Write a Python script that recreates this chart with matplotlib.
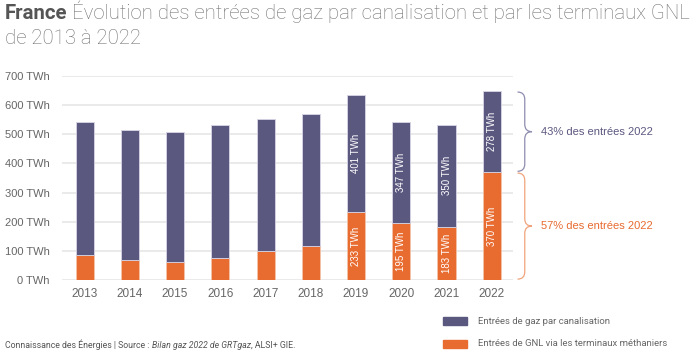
import matplotlib
matplotlib.use("Agg")
import matplotlib.pyplot as plt
from matplotlib.path import Path
from matplotlib.patches import PathPatch
import numpy as np

years = ["2013", "2014", "2015", "2016", "2017", "2018", "2019", "2020", "2021", "2022"]
gnl = [86, 67, 62, 77, 101, 118, 233, 195, 183, 370]
pipe = [457, 446, 447, 455, 452, 452, 401, 347, 350, 278]
labelled = [False, False, False, False, False, False, True, True, True, True]
yticks = [0, 100, 200, 300, 400, 500, 600, 700]

PURPLE = "#5b5880"
ORANGE = "#e86b30"
GRAY = "#666666"

W, H = 700, 350
fig = plt.figure(figsize=(7, 3.5), dpi=100)
ax = fig.add_axes([62 / W, 1 - 280 / H, (513 - 62) / W, (280 - 76) / H])

x = np.arange(len(years))
bw = 0.40
ax.bar(x, gnl, bw, color=ORANGE, edgecolor="#f3c2a8", linewidth=0.6, zorder=3)
ax.bar(x, pipe, bw, bottom=gnl, color=PURPLE, edgecolor="#d8d6e6", linewidth=0.6, zorder=3)

for i in range(len(years)):
    if labelled[i]:
        ax.text(x[i], gnl[i] / 2, f"{gnl[i]} TWh", rotation=90, ha="center", va="center",
                color="white", fontsize=7, family="Liberation Sans", zorder=4)
        ax.text(x[i], gnl[i] + pipe[i] / 2, f"{pipe[i]} TWh", rotation=90, ha="center", va="center",
                color="white", fontsize=7, family="Liberation Sans", zorder=4)

ax.set_xlim(-0.5, 9.47)
ax.set_ylim(0, 700)
ax.set_yticks(yticks)
ax.set_yticklabels([f"{v} TWh" for v in yticks])
ax.set_xticks(x)
ax.set_xticklabels(years)
ax.grid(axis="y", color="#e8e8e8", linewidth=1.3, zorder=0)
for s in ax.spines.values():
    s.set_visible(False)
ax.tick_params(axis="both", length=0, colors=GRAY, labelsize=8)
ax.tick_params(axis="y", pad=9)
ax.tick_params(axis="x", pad=6, labelsize=8.5)
for lab in ax.get_xticklabels() + ax.get_yticklabels():
    lab.set_family("Liberation Sans")


def brace(y0, y1, color):
    xv = 9.73
    d = 0.16
    h = 25
    ym = (y0 + y1) / 2
    verts = [(xv - d, y1), (xv, y1), (xv, y1 - h),
             (xv, ym + h), (xv, ym), (xv + d, ym),
             (xv, ym), (xv, ym - h),
             (xv, y0 + h), (xv, y0), (xv - d, y0)]
    codes = [Path.MOVETO, Path.CURVE3, Path.CURVE3,
             Path.LINETO, Path.CURVE3, Path.CURVE3,
             Path.CURVE3, Path.CURVE3,
             Path.LINETO, Path.CURVE3, Path.CURVE3]
    p = PathPatch(Path(verts, codes), fill=False, edgecolor=color, linewidth=0.9, clip_on=False)
    ax.add_patch(p)
    return ym

tot = gnl[-1] + pipe[-1]
ym1 = brace(gnl[-1] + 3, tot - 3, "#8f8db0")
ym2 = brace(3, gnl[-1] - 3, "#f0a47c")
ax.text(10.1, ym1, f"{round(pipe[-1] / tot * 100)}% des entrées 2022", color=PURPLE,
        fontsize=8, va="center", ha="left", family="Liberation Sans", clip_on=False)
ax.text(10.1, ym2, f"{round(gnl[-1] / tot * 100)}% des entrées 2022", color=ORANGE,
        fontsize=8, va="center", ha="left", family="Liberation Sans", clip_on=False)

renderer = fig.canvas.get_renderer()

# Title
TS = 14.7
t1 = fig.text(5 / W, 1 - 19 / H, "France", fontsize=TS, fontweight="bold", color="#555555",
              family="Roboto", va="baseline")
bb = t1.get_window_extent(renderer)
fig.text(bb.x1 / W + 4 / W, 1 - 19 / H, "Évolution des entrées de gaz par canalisation et par les terminaux GNL",
         fontsize=TS, fontweight="light", color="#707070", family="Roboto", va="baseline")
fig.text(5 / W, 1 - 44 / H, "de 2013 à 2022", fontsize=TS, fontweight="light", color="#707070",
         family="Roboto", va="baseline")

# Footer
parts = [("Connaissance des Énergies | Source : ", "normal"),
         ("Bilan gaz 2022 de GRTgaz", "italic"),
         (", ALSI+ GIE.", "normal")]
xp = 5
for txt, st in parts:
    t = fig.text(xp / W, 1 - 345 / H, txt, fontsize=6.3, color="#555555", family="Roboto",
                 style=st, va="center")
    xp = t.get_window_extent(renderer).x1 + 0.5

# Legend
leg_items = [("Entrées de gaz par canalisation", PURPLE, 321),
             ("Entrées de GNL via les terminaux méthaniers", ORANGE, 344)]
for lab, col, yc in leg_items:
    fig.patches.append(plt.Rectangle((443 / W, 1 - (yc + 4) / H), 24 / W, 8 / H,
                                     transform=fig.transFigure, color=col, figure=fig))
    fig.text(478 / W, 1 - yc / H, lab, fontsize=6.8, color="#666666", family="Roboto", va="center")

fig.savefig("out.png", dpi=100)
